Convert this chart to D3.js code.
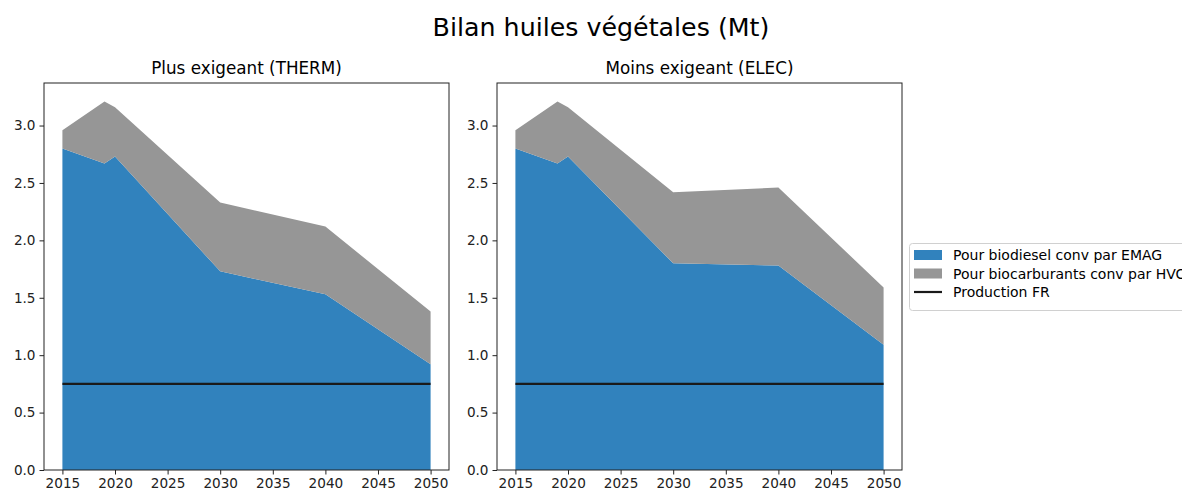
<!DOCTYPE html>
<html>
<head>
<meta charset="utf-8">
<script src="https://cdn.jsdelivr.net/npm/d3@7"></script>
<style>
  body { margin: 0; background: #fff; }
  svg { display: block; font-family: "DejaVu Sans", sans-serif; }
</style>
</head>
<body>
<svg id="chart" width="1182" height="490"></svg>
<script>
// values (Mt)
const years = [2015, 2019, 2020, 2030, 2040, 2050];
const thermEmag = [2.80, 2.67, 2.73, 1.73, 1.53, 0.92];
const thermHvo = [0.16, 0.54, 0.43, 0.60, 0.59, 0.46];
const elecEmag = [2.80, 2.67, 2.73, 1.80, 1.78, 1.09];
const elecHvo = [0.16, 0.54, 0.43, 0.62, 0.68, 0.50];
const productionFR = 0.75;

const xTicks = [2015, 2020, 2025, 2030, 2035, 2040, 2045, 2050];
const yTicks = [0, 0.5, 1.0, 1.5, 2.0, 2.5, 3.0];
const seriesNames = ['Pour biodiesel conv par EMAG', 'Pour biocarburants conv par HVO', 'Production FR'];
const colors = ['#3182bd', '#969696', '#1a1a1a'];

const panels = [
    {title: 'Plus exigeant (THERM)', emag: thermEmag, hvo: thermHvo, left: 44},
    {title: 'Moins exigeant (ELEC)', emag: elecEmag, hvo: elecHvo, left: 497},
];

const svg = d3.select('#chart');
const W = 405, plotTop = 83, plotBottom = 470;
const FS = 13.6;

svg.append('text')
    .attr('x', 601).attr('y', 27)
    .attr('text-anchor', 'middle').attr('dominant-baseline', 'central')
    .style('font-size', '25.3px')
    .text('Bilan huiles végétales (Mt)');

const allTotals = panels.flatMap((p) => p.emag.map((v, i) => v + p.hvo[i]));
const ymax = d3.max(allTotals) * 1.05;

panels.forEach((p) => {
    const x = d3.scaleLinear().domain([2013.25, 2051.75]).range([p.left, p.left + W]);
    const y = d3.scaleLinear().domain([0, ymax]).range([plotBottom, plotTop]);

    const rows = years.map((yr, i) => ({year: yr, emag: p.emag[i], hvo: p.hvo[i]}));
    const stacked = d3.stack().keys(['emag', 'hvo'])(rows);
    const area = d3.area()
        .x((d) => x(d.data.year))
        .y0((d) => y(d[0]))
        .y1((d) => y(d[1]));

    const g = svg.append('g');
    g.selectAll('path.area')
        .data(stacked)
        .enter().append('path')
        .attr('class', 'area')
        .attr('d', area)
        .attr('fill', (d, i) => colors[i]);

    g.append('line')
        .attr('x1', x(years[0])).attr('x2', x(years[years.length - 1]))
        .attr('y1', y(productionFR)).attr('y2', y(productionFR))
        .attr('stroke', colors[2]).attr('stroke-width', 2.2);

    // axes
    const xAxis = g.append('g')
        .attr('transform', `translate(0,${plotBottom})`)
        .call(d3.axisBottom(x).tickValues(xTicks).tickFormat(d3.format('d')).tickSize(4.5).tickPadding(4));
    const yAxis = g.append('g')
        .attr('transform', `translate(${p.left},0)`)
        .call(d3.axisLeft(y).tickValues(yTicks).tickFormat(d3.format('.1f')).tickSize(4.5).tickPadding(4));
    [xAxis, yAxis].forEach((a) => {
        a.select('.domain').remove();
        a.selectAll('text').style('font-size', FS + 'px').style('font-family', '"DejaVu Sans", sans-serif').attr('fill', '#222');
        a.selectAll('line').attr('stroke', '#222');
    });

    g.append('rect')
        .attr('x', p.left).attr('y', plotTop)
        .attr('width', W).attr('height', plotBottom - plotTop)
        .attr('fill', 'none').attr('stroke', '#222').attr('stroke-width', 1);

    g.append('text')
        .attr('x', p.left + W / 2).attr('y', 68)
        .attr('text-anchor', 'middle').attr('dominant-baseline', 'central')
        .style('font-size', '16.8px')
        .text(p.title);
});

// legend
const lg = svg.append('g').attr('transform', 'translate(909,243)');
lg.append('rect')
    .attr('x', 0.5).attr('y', 0.5).attr('rx', 3)
    .attr('width', 300).attr('height', 67)
    .attr('fill', '#fff').attr('stroke', '#d0d0d0');
seriesNames.forEach((name, i) => {
    const cy = 12 + i * 18.5;
    if (i < 2) {
        lg.append('rect').attr('x', 5).attr('y', cy - 5).attr('width', 28).attr('height', 10).attr('fill', colors[i]);
    } else {
        lg.append('line').attr('x1', 5).attr('x2', 33).attr('y1', cy).attr('y2', cy)
            .attr('stroke', colors[2]).attr('stroke-width', 2.2);
    }
    lg.append('text')
        .attr('x', 44).attr('y', cy)
        .attr('dominant-baseline', 'central')
        .style('font-size', '14px')
        .text(name);
});
</script>
</body>
</html>
